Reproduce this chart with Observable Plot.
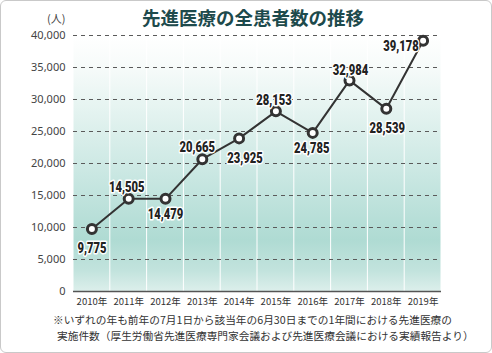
<!DOCTYPE html>
<html><head><meta charset="utf-8">
<script src="https://cdn.jsdelivr.net/npm/d3@7"></script>
<script src="https://cdn.jsdelivr.net/npm/@observablehq/plot@0.6"></script>
<style>
body{margin:0;background:#fff;}
#box{position:relative;width:490px;height:351px;border:1px solid #c9c9c9;border-radius:6px;overflow:hidden;font-family:"Noto Sans CJK JP","Noto Sans",sans-serif;background:#fff;}
#title{position:absolute;left:141px;top:4px;font-size:18.5px;line-height:24px;font-weight:bold;color:#1d4a4c;white-space:nowrap;}
#unit{position:absolute;left:46px;top:12px;font-size:11px;line-height:11px;color:#444;white-space:nowrap;}
#chart{position:absolute;left:-1px;top:-1px;width:492px;}
.cap{position:absolute;font-size:10.7px;line-height:15.6px;color:#333;white-space:nowrap;}
</style></head>
<body>
<div id="box">
  <div id="chart"></div>
  <div id="title">先進医療の全患者数の推移</div>
  <div id="unit">(人)</div>
  <div class="cap" style="left:52px;top:311px;">※いずれの年も前年の7月1日から該当年の6月30日までの1年間における先進医療の</div>
  <div class="cap" style="left:56px;top:326.7px;">実施件数（厚生労働省先進医療専門家会議および先進医療会議における実績報告より）</div>
</div>
<script>
const years = ["2010年","2011年","2012年","2013年","2014年","2015年","2016年","2017年","2018年","2019年"];
const patients = [9775, 14505, 14479, 20665, 23925, 28153, 24785, 32984, 28539, 39178];
const yTicks = [0, 5000, 10000, 15000, 20000, 25000, 30000, 35000, 40000];

const data = years.map((year, i) => ({year, value: patients[i]}));
const yMax = d3.max(yTicks);
const fmt = d3.format(",");

// label offsets (dx, dy) per point, in pixels
const offsets = [[0,20],[-2,-11],[0,16],[-5,-12],[6,20],[-2,-11],[-1,16],[1,-10],[1,20],[-22,6]];

const labelFont = "Roboto,'Liberation Sans',sans-serif";

const plot = Plot.plot({
  width: 492, height: 312,
  marginLeft: 73, marginRight: 51, marginTop: 35, marginBottom: 21,
  style: {fontFamily: "'Noto Sans CJK JP','Noto Sans',sans-serif", background: "transparent", overflow: "visible"},
  x: {type: "band", domain: years, padding: 0, round: false, label: null},
  y: {domain: [0, yMax], label: null},
  marks: [
    Plot.barY(years, {x: d => d, y1: () => 0, y2: () => yMax, fill: "url(#bg)", insetLeft: 0.5, insetRight: 0.5}),
    Plot.ruleY(yTicks.filter(d => d > 0), {stroke: "#5a5a5a", strokeWidth: 1, strokeDasharray: "4,4"}),
    Plot.ruleY([0], {stroke: "#555", strokeWidth: 1.5}),
    Plot.axisY({ticks: yTicks, tickSize: 0, tickPadding: 8, tickFormat: fmt, fontSize: 11, fill: "#444", label: null, fontFamily: "'Noto Sans',sans-serif"}),
    Plot.axisX({tickSize: 0, tickPadding: 7, fontSize: 9.5, fill: "#333", label: null}),
    Plot.line(data, {x: "year", y: "value", stroke: "#333", strokeWidth: 2}),
    Plot.dot(data, {x: "year", y: "value", r: 4.5, fill: "white", stroke: "#333", strokeWidth: 3}),
    ...data.map((d, i) => Plot.text([d], {
      x: "year", y: "value", text: v => fmt(v.value),
      dx: offsets[i][0], dy: offsets[i][1],
      fontSize: 14, fontWeight: 900, fontFamily: labelFont,
      fill: "#222", stroke: "white", strokeWidth: 3, strokeLinejoin: "round",
      className: "vlabel"
    }))
  ]
});

const ns = "http://www.w3.org/2000/svg";
const defs = document.createElementNS(ns, "defs");
defs.innerHTML = `<linearGradient id="bg" x1="0" y1="0" x2="0" y2="1">
  <stop offset="0" stop-color="#ffffff"/>
  <stop offset="0.12" stop-color="#f7fbfa"/>
  <stop offset="0.3" stop-color="#e4f3f0"/>
  <stop offset="0.55" stop-color="#c9e7e2"/>
  <stop offset="0.8" stop-color="#afdbd3"/>
  <stop offset="0.92" stop-color="#c2e3dd"/>
  <stop offset="1" stop-color="#dcefeb"/>
</linearGradient>`;
plot.insertBefore(defs, plot.firstChild);
document.getElementById("chart").appendChild(plot);

// condense the value labels
plot.querySelectorAll(".vlabel text").forEach(t => {
  const w = t.getComputedTextLength();
  t.setAttribute("textLength", (w * 0.8).toFixed(1));
  t.setAttribute("lengthAdjust", "spacingAndGlyphs");
});
</script>
</body></html>
